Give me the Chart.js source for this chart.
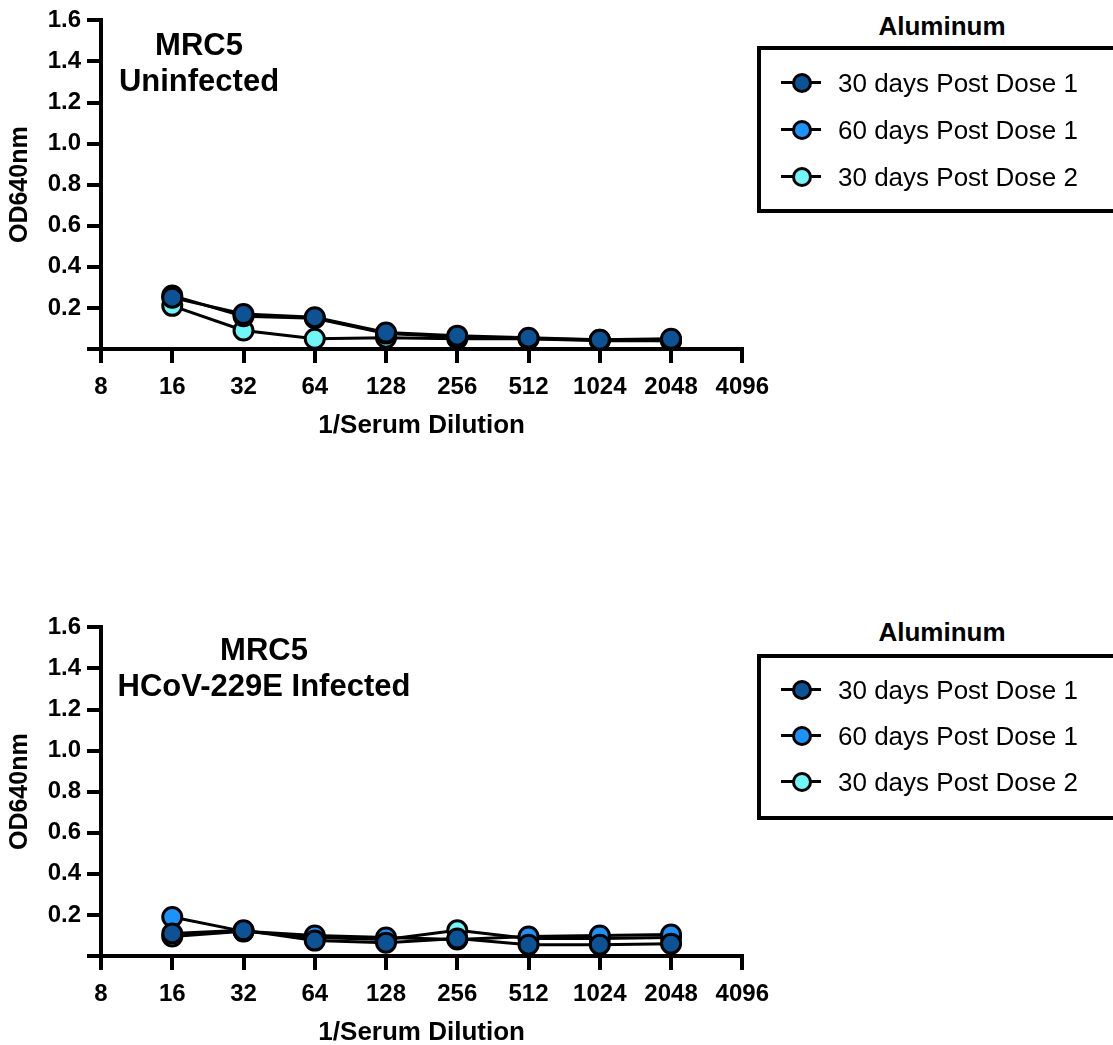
<!DOCTYPE html>
<html>
<head>
<meta charset="utf-8">
<script src="https://cdn.jsdelivr.net/npm/chart.js@4/dist/chart.umd.min.js"></script>
<style>
  body { margin: 0; width: 1113px; height: 1045px; overflow: hidden; background: #fff; font-family: "Liberation Sans", Arial, sans-serif; position: relative; }
  canvas { position: absolute; left: 0; }
  .note { position: absolute; font-weight: bold; font-size: 31px; text-align: center; line-height: 36px; color: #000; white-space: nowrap; }
  .legtitle { position: absolute; left: 830px; width: 224px; text-align: center; font-weight: bold; font-size: 26px; line-height: 30px; }
  .legbox { position: absolute; left: 757px; width: 370px; border: 4px solid #000; box-sizing: border-box; }
  .item { position: absolute; left: 22px; height: 30px; font-size: 26px; line-height: 30px; white-space: nowrap; }
  .sym { position: absolute; left: -2px; top: 0; width: 40px; height: 30px; }
  .sym .ln { position: absolute; left: 0; right: 0; top: 13px; height: 3px; background: #000; }
  .sym .dot { position: absolute; left: 11px; top: 5px; width: 14px; height: 14px; border: 3px solid #000; border-radius: 50%; }
  .item span.t { position: absolute; left: 55px; top: 0; }
</style>
</head>
<body>
<canvas id="c1" width="779" height="450" style="top:0px"></canvas>
<canvas id="c2" width="779" height="450" style="top:607px"></canvas>

<div class="note" style="left:49px;width:300px;top:27px">MRC5<br>Uninfected</div>
<div class="note" style="left:84px;width:360px;top:632px">MRC5<br>HCoV-229E Infected</div>

<div class="legtitle" style="top:11px">Aluminum</div>
<div class="legbox" id="leg1" style="top:46px;height:167px"></div>
<div class="legtitle" style="top:617px">Aluminum</div>
<div class="legbox" id="leg2" style="top:654px;height:166px"></div>

<script>
// data
var dilutions = [16, 32, 64, 128, 256, 512, 1024, 2048];
var xTicks = [8, 16, 32, 64, 128, 256, 512, 1024, 2048, 4096];
var yTicks = [0, 0.2, 0.4, 0.6, 0.8, 1.0, 1.2, 1.4, 1.6];
var seriesNames = ["30 days Post Dose 1", "60 days Post Dose 1", "30 days Post Dose 2"];
var seriesColors = ["#0b5394", "#1b93fb", "#6ff6f6"];

// MRC5 uninfected
var uninf_d30 = [0.25, 0.17, 0.155, 0.08, 0.065, 0.055, 0.045, 0.05];
var uninf_d60 = [0.26, 0.16, 0.15, 0.075, 0.06, 0.05, 0.045, 0.04];
var uninf_dose2 = [0.21, 0.09, 0.05, 0.055, 0.05, 0.05, 0.04, 0.04];

// MRC5 HCoV-229E infected
var inf_d30 = [0.11, 0.125, 0.075, 0.065, 0.085, 0.055, 0.055, 0.06];
var inf_d60 = [0.19, 0.12, 0.1, 0.09, 0.08, 0.095, 0.1, 0.105];
var inf_dose2 = [0.095, 0.12, 0.09, 0.08, 0.125, 0.085, 0.085, 0.09];

var fam = "'Liberation Sans', Arial, sans-serif";
var xFont = { family: fam, size: 24, weight: "bold" };
var yFont = { family: fam, size: 24, weight: "bold" };
var titleFont = { family: fam, size: 26, weight: "bold" };

function makeSets(lists) {
  return lists.map(function (vals, i) {
    return {
      label: seriesNames[i],
      data: vals.map(function (v, j) { return { x: dilutions[j], y: v }; }),
      borderColor: "#000",
      borderWidth: 3,
      backgroundColor: seriesColors[i],
      pointBackgroundColor: seriesColors[i],
      pointBorderColor: "#000",
      pointBorderWidth: 3,
      pointRadius: 9.5,
      tension: 0
    };
  });
}

var chartOptions = {
  responsive: false,
  animation: false,
  layout: { padding: { left: 0, top: 18, right: 0, bottom: 0 } },
  plugins: { legend: { display: false }, tooltip: { enabled: false } },
  scales: {
    x: {
      type: "logarithmic",
      min: 8,
      max: 4096,
      afterBuildTicks: function (s) { s.ticks = xTicks.map(function (v) { return { value: v }; }); },
      afterFit: function (s) { s.height = 101; },
      ticks: { color: "#000", font: xFont, padding: 10, maxRotation: 0, autoSkip: false,
               callback: function (v) { return String(v); } },
      grid: { display: true, drawOnChartArea: false, drawTicks: true, tickLength: 14, color: "#000", lineWidth: 4 },
      border: { display: true, color: "#000", width: 4 },
      title: { display: true, text: "1/Serum Dilution", color: "#000", font: titleFont, padding: { top: 4, bottom: 9 } }
    },
    y: {
      min: 0,
      max: 1.6,
      afterBuildTicks: function (s) { s.ticks = yTicks.map(function (v) { return { value: v }; }); },
      afterFit: function (s) { s.width = 101; },
      ticks: { color: "#000", font: yFont, padding: 6,
               callback: function (v) { return v === 0 ? "" : v.toFixed(1); } },
      grid: { display: true, drawOnChartArea: false, drawTicks: true, tickLength: 14, color: "#000", lineWidth: 4 },
      border: { display: true, color: "#000", width: 4 },
      title: { display: true, text: "OD640nm", color: "#000", font: { family: fam, size: 25, weight: "bold" }, padding: { top: 5, bottom: 0 } }
    }
  }
};

new Chart(document.getElementById("c1"), {
  type: "line",
  data: { datasets: makeSets([uninf_d30, uninf_d60, uninf_dose2]) },
  options: chartOptions
});

new Chart(document.getElementById("c2"), {
  type: "line",
  data: { datasets: makeSets([inf_d30, inf_d60, inf_dose2]) },
  options: chartOptions
});

// legends
function buildLegend(id, tops) {
  var box = document.getElementById(id);
  seriesNames.forEach(function (name, i) {
    var it = document.createElement("div");
    it.className = "item";
    it.style.top = tops[i] + "px";
    it.innerHTML = '<div class="sym"><div class="ln"></div><div class="dot" style="background:' +
      seriesColors[i] + '"></div></div><span class="t">' + name + '</span>';
    box.appendChild(it);
  });
}
buildLegend("leg1", [18, 65, 112]);
buildLegend("leg2", [17, 63, 109]);
</script>
</body>
</html>
